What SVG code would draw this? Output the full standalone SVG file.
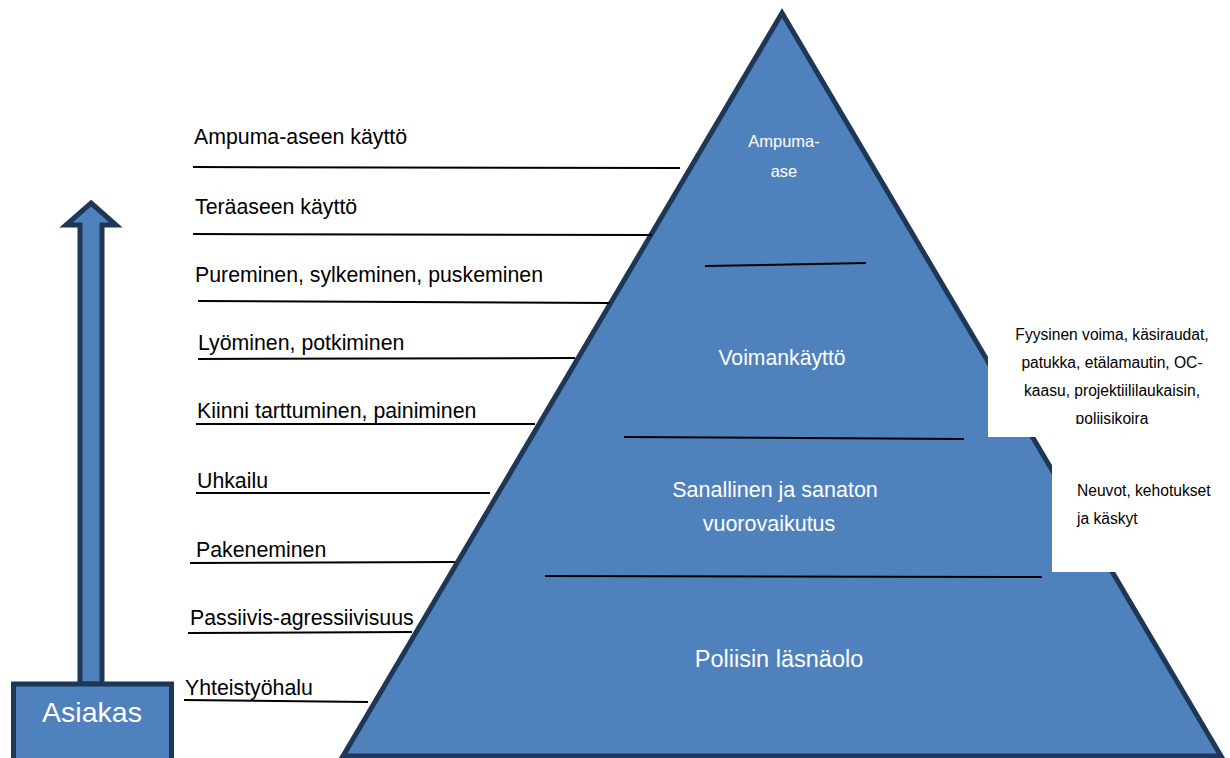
<svg xmlns="http://www.w3.org/2000/svg" width="1230" height="758" viewBox="0 0 1230 758">
<defs>
<style>
.shape{fill:#4f81bd;stroke:#1e3756;stroke-width:5;stroke-linejoin:miter}
.ln{stroke:#000;stroke-width:2;fill:none}
.lbl{font-family:"Liberation Sans",Arial,sans-serif;font-size:21.3px;fill:#000}
.wt{font-family:"Liberation Sans",Arial,sans-serif;fill:#fff;text-anchor:middle}
.note{font-family:"Liberation Sans",Arial,sans-serif;font-size:15.6px;fill:#000}
</style>
<clipPath id="c1"><rect x="988" y="310" width="242" height="114"/></clipPath>
</defs>
<rect width="1230" height="758" fill="#fff"/>

<g id="pyramid">
<polygon class="shape" points="782,13 343,756 1221,756"/>
<line class="ln" x1="705" y1="266" x2="866" y2="263" stroke-width="2.5"/>
<line class="ln" x1="624" y1="437" x2="964" y2="439" stroke-width="2.5"/>
<line class="ln" x1="545" y1="576" x2="1042" y2="577" stroke-width="2.5"/>
<text class="wt" x="784" y="147" font-size="16.5">Ampuma-</text>
<text class="wt" x="784" y="177" font-size="16.5">ase</text>
<text class="wt" x="782" y="365" font-size="21.2">Voimankäyttö</text>
<text class="wt" x="775" y="497" font-size="21.5">Sanallinen ja sanaton</text>
<text class="wt" x="769" y="531" font-size="21.5">vuorovaikutus</text>
<text class="wt" x="779" y="667" font-size="23.5">Poliisin läsnäolo</text>
</g>

<g id="note-force">
<rect x="988" y="318" width="242" height="119" fill="#fff"/>
<g clip-path="url(#c1)">
<text class="note" x="1112" y="340" text-anchor="middle">Fyysinen voima, käsiraudat,</text>
<text class="note" x="1112" y="368" text-anchor="middle">patukka, etälamautin, OC-</text>
<text class="note" x="1112" y="396" text-anchor="middle">kaasu, projektiililaukaisin,</text>
<text class="note" x="1112" y="424" text-anchor="middle">poliisikoira</text>
</g>
</g>

<g id="note-verbal">
<rect x="1052" y="462" width="178" height="110" fill="#fff"/>
<text class="note" x="1077" y="496" font-size="16">Neuvot, kehotukset</text>
<text class="note" x="1077" y="524" font-size="16">ja käskyt</text>
</g>

<g id="arrow">
<polygon class="shape" stroke-width="4.5" points="91,203 116,225 102,225 102,684 80,684 80,225 66,225"/>
</g>

<g id="asiakas">
<rect class="shape" x="13.5" y="684" width="158" height="90"/>
<text class="wt" x="92" y="722" font-size="28.5">Asiakas</text>
</g>

<g id="connectors">
<line class="ln" x1="193" y1="167" x2="680" y2="168"/>
<line class="ln" x1="193" y1="234" x2="652" y2="235"/>
<line class="ln" x1="198" y1="301" x2="610" y2="303"/>
<line class="ln" x1="198" y1="359" x2="575" y2="358"/>
<line class="ln" x1="196" y1="424" x2="535" y2="424"/>
<line class="ln" x1="196" y1="493" x2="490" y2="493"/>
<line class="ln" x1="190" y1="563" x2="455" y2="562"/>
<line class="ln" x1="188" y1="633" x2="412" y2="632"/>
<line class="ln" x1="184" y1="700" x2="368" y2="702"/>
</g>

<g id="labels">
<text class="lbl" x="194" y="144">Ampuma-aseen käyttö</text>
<text class="lbl" x="195" y="214">Teräaseen käyttö</text>
<text class="lbl" x="195" y="282">Pureminen, sylkeminen, puskeminen</text>
<text class="lbl" x="198" y="350">Lyöminen, potkiminen</text>
<text class="lbl" x="197" y="418">Kiinni tarttuminen, painiminen</text>
<text class="lbl" x="197" y="488">Uhkailu</text>
<text class="lbl" x="196" y="557">Pakeneminen</text>
<text class="lbl" x="190" y="625">Passiivis-agressiivisuus</text>
<text class="lbl" x="185" y="695">Yhteistyöhalu</text>
</g>
</svg>
